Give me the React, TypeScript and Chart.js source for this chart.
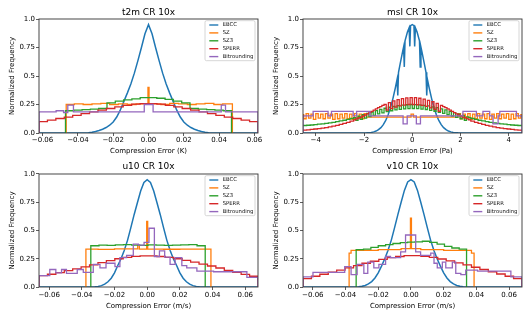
import React, { useEffect, useRef } from 'react';
import { Chart, registerables } from 'chart.js';
Chart.register(...registerables);

const FONT = 'DejaVu Sans';
const SERIES_NAMES = ['EBCC', 'SZ', 'SZ3', 'SPERR', 'Bitrounding'];
const SERIES_COLORS = ['#1f77b4', '#ff7f0e', '#2ca02c', '#d62728', '#9467bd'];

const Y_TICKS = [0, 0.25, 0.5, 0.75, 1.0];
const Y_TICK_LABELS = ['0.0', '0.25', '0.5', '0.75', '1.0'];
const SMALL_TICKS = [-0.06, -0.04, -0.02, 0, 0.02, 0.04, 0.06];
const SMALL_TICK_LABELS = ['−0.06', '−0.04', '−0.02', '0.00', '0.02', '0.04', '0.06'];
const MSL_TICKS = [-4, -2, 0, 2, 4];
const MSL_TICK_LABELS = ['−4', '−2', '0', '2', '4'];

// ---------- t2m ----------
const T2M_RANGE = [-0.062, 0.062];
const T2M_EBCC = [0, 0.003, 0.007, 0.013, 0.022, 0.033, 0.048, 0.068, 0.097, 0.14, 0.2, 0.275, 0.35, 0.43, 0.525, 0.635, 0.75, 0.87,
  0.95, 0.87, 0.75, 0.635, 0.525, 0.43, 0.35, 0.275, 0.2, 0.14, 0.097, 0.068, 0.048, 0.033, 0.022, 0.013, 0.007, 0.003, 0];
const T2M_SZ_EDGES = [-0.0466, -0.042, -0.037, -0.032, -0.027, -0.022, -0.017, -0.012, -0.007, -0.0003, 0.0003, 0.007, 0.012, 0.017, 0.022, 0.027, 0.032, 0.037, 0.042, 0.0475];
const T2M_SZ = [0.25, 0.255, 0.25, 0.255, 0.26, 0.25, 0.255, 0.25, 0.255, 0.4, 0.255, 0.25, 0.26, 0.255, 0.25, 0.255, 0.26, 0.25, 0.255];
const T2M_SZ3 = [0.195, 0.2, 0.205, 0.21, 0.215, 0.265, 0.28, 0.29, 0.3, 0.31, 0.31, 0.305, 0.295, 0.28, 0.265, 0.215, 0.21, 0.205, 0.2, 0.195];
const T2M_SPERR = [0.1, 0.113, 0.127, 0.14, 0.155, 0.17, 0.185, 0.2, 0.215, 0.23, 0.243, 0.253, 0.258, 0.258, 0.253, 0.243, 0.23, 0.215, 0.2, 0.185, 0.17, 0.155, 0.14, 0.127, 0.113, 0.1];
const T2M_BITR_EDGES = [-0.062, -0.0523, -0.0481, -0.0457, -0.0425, -0.0024, 0.0026, 0.0412, 0.0436, 0.062];
const T2M_BITR = [0.185, 0.195, 0.18, 0.245, 0.185, 0.25, 0.185, 0.245, 0.185];

// ---------- msl ----------
const MSL_RANGE = [-4.53, 4.55];
const MSL_EBCC_X = [-2.0, -1.9, -1.8, -1.7, -1.6, -1.5, -1.4, -1.3, -1.2, -1.1, -1.0, -0.9, -0.8, -0.7, -0.63, -0.6, -0.57, -0.5, -0.4, -0.36, -0.33, -0.3,
  -0.2, -0.13, -0.1, -0.07, 0, 0.07, 0.1, 0.13, 0.2,
  0.3, 0.33, 0.36, 0.4, 0.5, 0.57, 0.6, 0.63, 0.7, 0.8, 0.9, 1.0, 1.1, 1.2, 1.3, 1.4, 1.5, 1.6, 1.7, 1.8, 1.9, 2.0];
const MSL_EBCC = [0.0006, 0.0012, 0.0025, 0.005, 0.0097, 0.017, 0.029, 0.047, 0.073, 0.11, 0.16, 0.224, 0.304, 0.397, 0.469, 0.33, 0.533, 0.609, 0.714, 0.754, 0.58, 0.809,
  0.885, 0.922, 0.76, 0.942, 0.95, 0.942, 0.76, 0.922, 0.885,
  0.809, 0.58, 0.754, 0.714, 0.609, 0.533, 0.33, 0.469, 0.397, 0.304, 0.224, 0.16, 0.11, 0.073, 0.047, 0.029, 0.017, 0.0097, 0.005, 0.0025, 0.0012, 0.0006];
const MSL_SZ_EDGES_MID = [-1.8, -0.05, 0.05, 1.8];
const MSL_SZ = [
  0.16, 0.125, 0.17, 0.13, 0.165, 0.12, 0.17, 0.13, 0.165, 0.125, 0.17, 0.13, 0.165, 0.12, 0.17, 0.125, 0.165, 0.13, 0.17, 0.125, 0.165, 0.12, 0.17, 0.13, 0.165, 0.125, 0.17, 0.14,
  0.14, 0.165, 0.14,
  0.14, 0.17, 0.125, 0.165, 0.13, 0.17, 0.12, 0.165, 0.125, 0.17, 0.13, 0.165, 0.125, 0.17, 0.12, 0.165, 0.13, 0.17, 0.125, 0.165, 0.13, 0.17, 0.12, 0.165, 0.125, 0.17, 0.13, 0.16];
const MSL_SZ3 = [
  0.064, 0.066, 0.068, 0.07, 0.073, 0.077, 0.08, 0.084, 0.089, 0.094, 0.099, 0.106, 0.112, 0.12, 0.127,
  0.135, 0.11, 0.147, 0.12, 0.16, 0.131, 0.172, 0.143, 0.184, 0.155, 0.196, 0.167, 0.207, 0.177, 0.217, 0.187, 0.226, 0.195,
  0.234, 0.203, 0.241, 0.208, 0.245, 0.212, 0.248, 0.214, 0.25, 0.215, 0.249, 0.213, 0.247, 0.21, 0.243, 0.206, 0.238, 0.199,
  0.23, 0.191, 0.222, 0.182, 0.212, 0.172, 0.202, 0.161, 0.19, 0.149, 0.178, 0.137, 0.166, 0.125, 0.153, 0.112, 0.141, 0.135,
  0.127, 0.12, 0.112, 0.106, 0.099, 0.094, 0.089, 0.084, 0.08, 0.077, 0.073, 0.07, 0.068, 0.066, 0.064];
const MSL_SPERR = [
  0.022, 0.025, 0.028, 0.031, 0.035, 0.039, 0.043, 0.048, 0.054, 0.06, 0.067, 0.076, 0.085, 0.094, 0.105,
  0.116, 0.124, 0.132, 0.14, 0.149, 0.158, 0.168, 0.178, 0.189, 0.2, 0.211, 0.222, 0.232, 0.242, 0.251, 0.2, 0.267, 0.214,
  0.281, 0.227, 0.293, 0.238, 0.302, 0.245, 0.308, 0.25, 0.31, 0.25, 0.31, 0.248, 0.305, 0.242, 0.298, 0.233, 0.287, 0.221,
  0.274, 0.207, 0.259, 0.191, 0.242, 0.232, 0.222, 0.211, 0.2, 0.189, 0.178, 0.168, 0.158, 0.149, 0.14, 0.132, 0.124, 0.116,
  0.105, 0.094, 0.085, 0.076, 0.067, 0.06, 0.054, 0.048, 0.043, 0.039, 0.035, 0.031, 0.028, 0.025, 0.022];
const MSL_BITR_EDGES = [-4.53, -4.11, -3.49, -3.35, -2.45, -2.31, -1.76, -0.38, -0.21, 0.17, 0.34, 2.1, 2.66, 2.93, 3.21, 3.35, 3.56, 3.63, 4.32, 4.55];
const MSL_BITR = [0.15, 0.19, 0.15, 0.19, 0.15, 0.19, 0.15, 0.08, 0.15, 0.08, 0.15, 0.19, 0.15, 0.19, 0.15, 0.08, 0.15, 0.19, 0.15];

// ---------- u10 ----------
const U10_RANGE = [-0.0662, 0.0678];
const U10_EBCC = [0, 0.001, 0.002, 0.005, 0.012, 0.025, 0.046, 0.078, 0.125, 0.19, 0.25, 0.325, 0.415, 0.525, 0.64, 0.745, 0.85, 0.925,
  0.95, 0.925, 0.85, 0.745, 0.64, 0.525, 0.415, 0.325, 0.25, 0.19, 0.125, 0.078, 0.046, 0.025, 0.012, 0.005, 0.002, 0.001, 0];
const U10_SZ_EDGES = [-0.0375, -0.03, -0.02, -0.0058, -0.0048, -0.0003, 0.0003, 0.01, 0.02, 0.03, 0.039];
const U10_SZ = [0.335, 0.333, 0.337, 0.37, 0.335, 0.58, 0.336, 0.334, 0.336, 0.335];
const U10_SZ3 = [0.365, 0.37, 0.368, 0.372, 0.375, 0.37, 0.368, 0.372, 0.37, 0.368, 0.37, 0.372, 0.375, 0.365];
const U10_SPERR = [0.1, 0.113, 0.128, 0.145, 0.16, 0.178, 0.196, 0.215, 0.233, 0.25, 0.262, 0.271, 0.276, 0.275, 0.27, 0.262, 0.25, 0.236, 0.22, 0.203, 0.186, 0.168, 0.148, 0.13, 0.112, 0.095];
const U10_BITR_EDGES = [-0.0662, -0.0596, -0.0559, -0.0524, -0.0494, -0.0428, -0.0391, -0.033, -0.0289, -0.0252, -0.0197, -0.0167, -0.0126, -0.0085, -0.0054, -0.0019, 0.0011, 0.0044, 0.0075, 0.0107, 0.014, 0.0171, 0.0212, 0.0242, 0.0304, 0.0406, 0.061, 0.0678];
const U10_BITR = [0.1, 0.155, 0.125, 0.155, 0.12, 0.155, 0.13, 0.2, 0.17, 0.21, 0.18, 0.26, 0.28, 0.38, 0.37, 0.395, 0.52, 0.27, 0.32, 0.265, 0.2, 0.26, 0.19, 0.17, 0.14, 0.135, 0.085];

// ---------- v10 ----------
const V10_RANGE = [-0.066, 0.0679];
const V10_EBCC = [0, 0.001, 0.003, 0.006, 0.014, 0.027, 0.048, 0.08, 0.125, 0.185, 0.25, 0.325, 0.415, 0.525, 0.64, 0.75, 0.855, 0.93,
  0.95, 0.93, 0.855, 0.75, 0.64, 0.525, 0.415, 0.325, 0.25, 0.185, 0.125, 0.08, 0.048, 0.027, 0.014, 0.006, 0.003, 0.001, 0];
const V10_SZ_EDGES = [-0.0378, -0.0366, -0.02, -0.006, -0.0003, 0.0003, 0.006, 0.02, 0.037, 0.0386];
const V10_SZ = [0.3, 0.325, 0.33, 0.34, 0.61, 0.34, 0.33, 0.325, 0.3];
const V10_SZ3 = [0.33, 0.335, 0.35, 0.365, 0.375, 0.385, 0.393, 0.397, 0.4, 0.405, 0.395, 0.38, 0.36, 0.345, 0.335];
const V10_SPERR = [0.075, 0.095, 0.113, 0.132, 0.15, 0.17, 0.19, 0.21, 0.228, 0.245, 0.26, 0.27, 0.278, 0.278, 0.272, 0.262, 0.248, 0.232, 0.214, 0.195, 0.175, 0.155, 0.135, 0.115, 0.095, 0.075];
const V10_BITR_EDGES = [-0.066, -0.0599, -0.0405, -0.0366, -0.0329, -0.0288, -0.0264, -0.0227, -0.0196, -0.0155, -0.0125, -0.0063, -0.0033, 0.0029, 0.0059, 0.0121, 0.0141, 0.0161, 0.0192, 0.0213, 0.0253, 0.0274, 0.0305, 0.0335, 0.0407, 0.0611, 0.0679];
const V10_BITR = [0.09, 0.13, 0.18, 0.11, 0.2, 0.12, 0.22, 0.17, 0.2, 0.27, 0.26, 0.31, 0.46, 0.31, 0.28, 0.3, 0.21, 0.17, 0.22, 0.17, 0.22, 0.12, 0.11, 0.15, 0.14, 0.09];

// uniform bin edges (start, bin width, number of bins) and joining of edge lists
const uni = (start: number, width: number, n: number) => Array.from({ length: n + 1 }, (_, i) => start + i * width);
const joinEdges = (...parts: number[][]) =>
  parts.reduce((acc: number[], p) => acc.concat(acc.length && Math.abs(acc[acc.length - 1] - p[0]) < 1e-9 ? p.slice(1) : p), []);

type Series = { xs: number[]; values: number[]; line?: boolean };
type PanelCfg = {
  title: string; xTitle: string; range: number[]; ticks: number[]; tickLabels: string[];
  series: Series[]; row: number; col: number;
};

const MSL_FINE_EDGES = joinEdges(uni(-4.68, 0.15, 15), uni(-2.43, 0.09, 54), uni(2.43, 0.15, 15));

const PANELS: PanelCfg[] = [
  {
    title: 't2m CR 10x', xTitle: 'Compression Error (K)', range: T2M_RANGE, ticks: SMALL_TICKS, tickLabels: SMALL_TICK_LABELS, row: 0, col: 0,
    series: [
      { xs: uni(-0.036, 0.002, 36), values: T2M_EBCC, line: true },
      { xs: T2M_SZ_EDGES, values: T2M_SZ },
      { xs: uni(-0.047, 0.0047, 20), values: T2M_SZ3 },
      { xs: uni(-0.062, 0.124 / 26, 26), values: T2M_SPERR },
      { xs: T2M_BITR_EDGES, values: T2M_BITR },
    ],
  },
  {
    title: 'msl CR 10x', xTitle: 'Compression Error (Pa)', range: MSL_RANGE, ticks: MSL_TICKS, tickLabels: MSL_TICK_LABELS, row: 0, col: 1,
    series: [
      { xs: MSL_EBCC_X, values: MSL_EBCC, line: true },
      { xs: joinEdges(uni(-4.6, 0.1, 28), MSL_SZ_EDGES_MID, uni(1.8, 0.1, 28)), values: MSL_SZ },
      { xs: MSL_FINE_EDGES, values: MSL_SZ3 },
      { xs: MSL_FINE_EDGES, values: MSL_SPERR },
      { xs: MSL_BITR_EDGES, values: MSL_BITR },
    ],
  },
  {
    title: 'u10 CR 10x', xTitle: 'Compression Error (m/s)', range: U10_RANGE, ticks: SMALL_TICKS, tickLabels: SMALL_TICK_LABELS, row: 1, col: 0,
    series: [
      { xs: uni(-0.036, 0.002, 36), values: U10_EBCC, line: true },
      { xs: U10_SZ_EDGES, values: U10_SZ },
      { xs: uni(-0.0345, 0.005, 14), values: U10_SZ3 },
      { xs: uni(-0.0662, 0.134 / 26, 26), values: U10_SPERR },
      { xs: U10_BITR_EDGES, values: U10_BITR },
    ],
  },
  {
    title: 'v10 CR 10x', xTitle: 'Compression Error (m/s)', range: V10_RANGE, ticks: SMALL_TICKS, tickLabels: SMALL_TICK_LABELS, row: 1, col: 1,
    series: [
      { xs: uni(-0.036, 0.002, 36), values: V10_EBCC, line: true },
      { xs: V10_SZ_EDGES, values: V10_SZ },
      { xs: uni(-0.0335, 0.0045, 15), values: V10_SZ3 },
      { xs: uni(-0.066, 0.1339 / 26, 26), values: V10_SPERR },
      { xs: V10_BITR_EDGES, values: V10_BITR },
    ],
  },
];

const ROWS = [
  { top: 0, h: 159, titleTop: 7, titleBottom: 1.2, xh: 26, tickPad: -0.5, xTitleBottom: 3.8 },
  { top: 159, h: 159, titleTop: 1.9, titleBottom: 2.3, xh: 31, tickPad: 0.5, xTitleBottom: 8.1 },
];
const COLS = [
  { left: 0, w: 266, padRight: 8 },
  { left: 264, w: 265, padRight: 7 },
];

// step outline of a histogram (edges + bin values), or a polyline through bin centres;
// the first (EBCC) series also continues at zero to both ends of the axis
function seriesPoints(s: Series, range: number[], first: boolean) {
  const pts: { x: number; y: number }[] = [];
  if (first) pts.push({ x: range[0] - 1, y: 0 });
  if (s.line) {
    s.values.forEach((v, i) => pts.push({ x: s.xs[i], y: v }));
  } else {
    const e = s.xs;
    pts.push({ x: e[0], y: 0 });
    s.values.forEach((v, i) => pts.push({ x: e[i], y: v }));
    pts.push({ x: e[e.length - 1], y: 0 });
  }
  if (first) pts.push({ x: range[1] + 1, y: 0 });
  return pts;
}

const frameLegendPlugin = {
  id: 'frameLegend',
  afterDraw(chart: any) {
    const { ctx, chartArea: a } = chart;
    ctx.save();
    ctx.strokeStyle = '#333';
    ctx.lineWidth = 0.9;
    ctx.strokeRect(a.left, a.top, a.right - a.left, a.bottom - a.top);
    const bw = 50, bh = 40, r = 1.5;
    const bx = a.right - 3 - bw, by = a.top + 1.7;
    ctx.beginPath();
    ctx.moveTo(bx + r, by);
    ctx.lineTo(bx + bw - r, by);
    ctx.arcTo(bx + bw, by, bx + bw, by + r, r);
    ctx.lineTo(bx + bw, by + bh - r);
    ctx.arcTo(bx + bw, by + bh, bx + bw - r, by + bh, r);
    ctx.lineTo(bx + r, by + bh);
    ctx.arcTo(bx, by + bh, bx, by + bh - r, r);
    ctx.lineTo(bx, by + r);
    ctx.arcTo(bx, by, bx + r, by, r);
    ctx.closePath();
    ctx.fillStyle = 'rgba(255,255,255,0.85)';
    ctx.fill();
    ctx.strokeStyle = '#cccccc';
    ctx.lineWidth = 0.8;
    ctx.stroke();
    chart.data.datasets.forEach((ds: any, i: number) => {
      const y = by + 4.3 + i * 7.9;
      ctx.strokeStyle = ds.borderColor;
      ctx.lineWidth = 1.4;
      ctx.beginPath();
      ctx.moveTo(bx + 4.3, y);
      ctx.lineTo(bx + 13.3, y);
      ctx.stroke();
      ctx.fillStyle = '#111';
      ctx.font = `5.3px "${FONT}"`;
      ctx.textBaseline = 'middle';
      ctx.textAlign = 'left';
      ctx.fillText(ds.label, bx + 17.7, y);
    });
    ctx.restore();
  },
};

function Panel({ p }: { p: PanelCfg }) {
  const ref = useRef<HTMLCanvasElement>(null);
  const row = ROWS[p.row];
  const col = COLS[p.col];
  useEffect(() => {
    const axisFont = { family: FONT, size: 7 };
    const grid = { drawOnChartArea: false, drawTicks: true, tickLength: 3, color: '#333', lineWidth: 0.8 };
    const chart = new Chart(ref.current as HTMLCanvasElement, {
      type: 'line',
      data: {
        datasets: p.series.map((s, i) => ({
          label: SERIES_NAMES[i],
          data: seriesPoints(s, p.range, i === 0),
          borderColor: SERIES_COLORS[i],
          backgroundColor: SERIES_COLORS[i],
          borderWidth: i === 0 ? 1.5 : 1.3,
          pointRadius: 0,
          stepped: s.line ? false : 'before',
          tension: 0,
          fill: false,
          order: 5 - i,
        })),
      },
      options: {
        animation: false,
        responsive: false,
        maintainAspectRatio: false,
        events: [],
        layout: { padding: { left: 0, right: col.padRight, top: 0, bottom: 0 } },
        plugins: {
          legend: { display: false },
          tooltip: { enabled: false },
          title: {
            display: true,
            text: p.title,
            fullSize: false,
            color: '#000',
            font: { family: FONT, size: 9, weight: 'normal', lineHeight: 1.2 },
            padding: { top: row.titleTop, bottom: row.titleBottom },
          },
        },
        scales: {
          x: {
            type: 'linear',
            min: p.range[0],
            max: p.range[1],
            afterBuildTicks: (s: any) => { s.ticks = p.ticks.map((v) => ({ value: v })); },
            afterFit: (s: any) => { s.height = row.xh; s.paddingLeft = 0; s.paddingRight = 0; },
            ticks: {
              autoSkip: false, maxRotation: 0, minRotation: 0, padding: row.tickPad, color: '#000', font: axisFont,
              callback: (_v: any, i: number) => p.tickLabels[i],
            },
            grid,
            border: { display: false },
            title: { display: true, text: p.xTitle, color: '#000', font: axisFont, padding: { top: 0, bottom: row.xTitleBottom } },
          },
          y: {
            type: 'linear',
            min: 0,
            max: 1,
            afterBuildTicks: (s: any) => { s.ticks = Y_TICKS.map((v) => ({ value: v })); },
            afterFit: (s: any) => { s.width = 39; s.paddingTop = 0; s.paddingBottom = 0; },
            ticks: {
              autoSkip: false, padding: 1, color: '#000', font: axisFont,
              callback: (_v: any, i: number) => Y_TICK_LABELS[i],
            },
            grid,
            border: { display: false },
            title: { display: true, text: 'Normalized Frequency', color: '#000', font: axisFont, padding: { top: 7.8, bottom: 0 } },
          },
        },
      } as any,
      plugins: [frameLegendPlugin],
    });
    return () => chart.destroy();
  }, []);
  return (
    <canvas
      ref={ref}
      width={col.w}
      height={row.h}
      style={{ position: 'absolute', left: col.left, top: row.top, width: col.w, height: row.h }}
    />
  );
}

export default function App() {
  return (
    <div style={{ position: 'absolute', left: 0, top: 0, width: 529, height: 318, background: '#fff', overflow: 'hidden' }}>
      {PANELS.map((p, i) => <Panel key={i} p={p} />)}
    </div>
  );
}
